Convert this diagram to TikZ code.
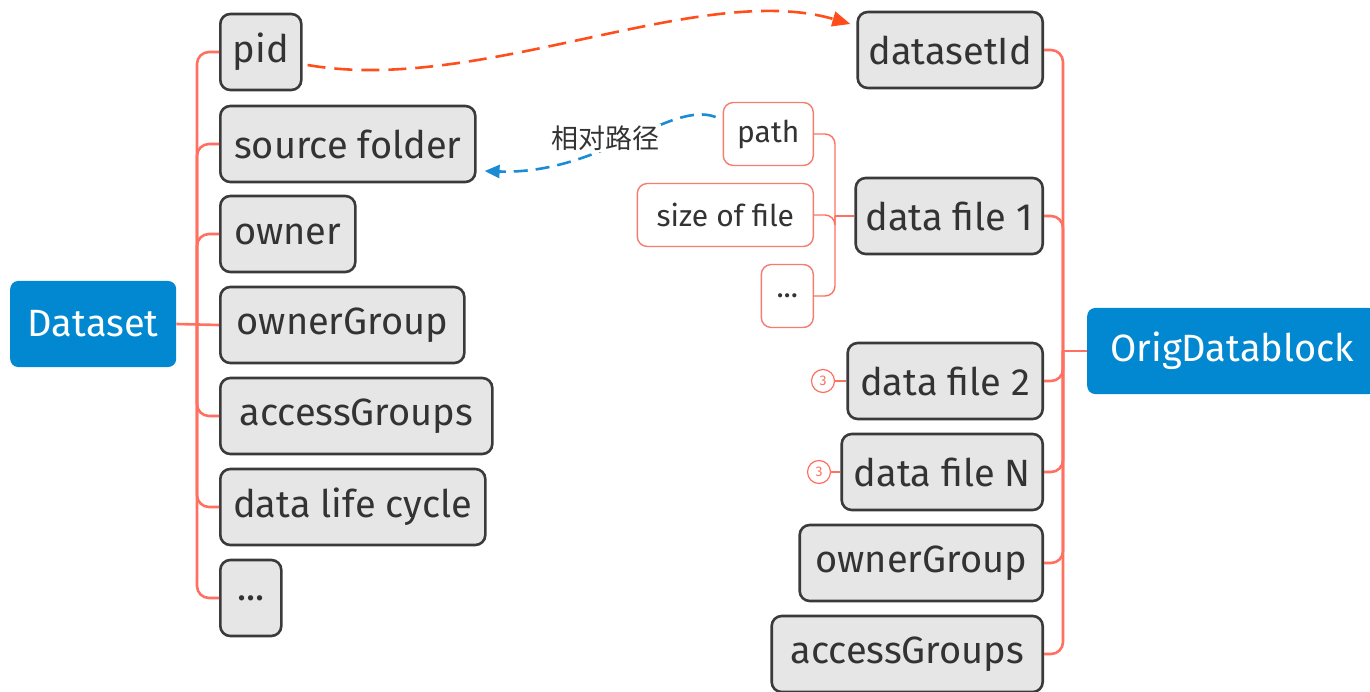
\documentclass[tikz,border=0pt]{standalone}
\usepackage{fontspec}
\setmainfont{Fira Sans}
\newfontfamily\cjk{Noto Sans CJK SC}
\usetikzlibrary{arrows.meta}
\definecolor{rootblue}{RGB}{2,136,209}
\definecolor{boxgray}{RGB}{230,230,230}
\definecolor{boxedge}{RGB}{58,58,58}
\definecolor{branchred}{RGB}{255,112,96}
\definecolor{pinkedge}{RGB}{245,125,112}
\definecolor{linkred}{RGB}{255,78,28}
\definecolor{linkblue}{RGB}{26,139,212}
\definecolor{txt}{RGB}{51,51,51}
\tikzset{
  rootbox/.style={rounded corners=8pt, fill=rootblue, draw=none, text=white,
    minimum height=86pt, inner sep=0pt, font=\fontsize{38}{40}\selectfont},
  attrbox/.style={rounded corners=10pt, fill=boxgray, draw=boxedge, line width=2.6pt,
    text=txt, minimum height=76pt, inner sep=0pt, font=\fontsize{38}{40}\selectfont},
  subbox/.style={rounded corners=10pt, fill=white, draw=pinkedge, line width=1.4pt,
    text=txt, minimum height=63pt, inner sep=0pt, font=\fontsize{30}{32}\selectfont},
  countmark/.style={circle, draw=branchred, line width=1.2pt, fill=white, text=branchred,
    minimum size=23pt, inner sep=0pt, font=\fontsize{14}{15}\selectfont},
  branch/.style={draw=branchred, line width=2.6pt},
  twig/.style={draw=branchred, line width=1.4pt},
  reflink/.style={draw=linkred, line width=2.6pt, dash pattern=on 18pt off 9pt,
    -{Triangle[length=18pt,width=15pt]}},
  rellink/.style={draw=linkblue, line width=2.6pt, dash pattern=on 14pt off 8pt,
    -{Triangle[length=15pt,width=13pt]}},
}
\begin{document}
\begin{tikzpicture}[x=1pt,y=-1pt]
\useasboundingbox (0,0) rectangle (1370,692);

% ---- Dataset side ----
\node[rootbox, minimum width=166pt, anchor=west] (dataset) at (10,324) {Dataset};
\node[attrbox, minimum width=81pt,  anchor=west] (pid)    at (219,52)  {pid};
\node[attrbox, minimum width=255pt, anchor=west] (src)    at (219,144) {source folder};
\node[attrbox, minimum width=135pt, anchor=west] (owner)  at (219,234) {owner};
\node[attrbox, minimum width=244pt, anchor=west] (dgroup) at (219,325) {ownerGroup};
\node[attrbox, minimum width=272pt, anchor=west] (dacc)   at (219,416) {accessGroups};
\node[attrbox, minimum width=265pt, anchor=west] (life)   at (219,507) {data life cycle};
\node[attrbox, minimum width=61pt,  anchor=west] (dmore)  at (219,598) {...};

\coordinate (lbus) at (197,324);
\draw[branch] (dataset.east) -- (dgroup.west);
\foreach \c in {pid,src,owner,dacc,life,dmore}
  \draw[branch, rounded corners=12pt] (lbus) |- (\c.west);

% ---- OrigDatablock side ----
\node[rootbox, minimum width=290pt, anchor=west] (orig) at (1087,351) {OrigDatablock};
\node[attrbox, minimum width=185pt, anchor=east] (dsid)   at (1044,50)  {datasetId};
\node[attrbox, minimum width=187pt, anchor=east] (file1)  at (1044,216) {data file 1};
\node[attrbox, minimum width=195pt, anchor=east] (file2)  at (1044,381) {data file 2};
\node[attrbox, minimum width=201pt, anchor=east] (fileN)  at (1044,472) {data file N};
\node[attrbox, minimum width=243pt, anchor=east] (ogroup) at (1044,563) {ownerGroup};
\node[attrbox, minimum width=271pt, anchor=east] (oacc)   at (1044,654) {accessGroups};

\coordinate (rbus) at (1063,351);
\draw[branch] (orig.west) -- (rbus);
\foreach \c in {dsid,file1,file2,fileN,ogroup,oacc}
  \draw[branch, rounded corners=12pt] (rbus) |- (\c.east);

% ---- data file 1 details ----
\node[subbox, minimum width=90pt,  anchor=east] (fpath) at (814,134) {path};
\node[subbox, minimum width=176pt, anchor=east] (fsize) at (814,215) {size of file};
\node[subbox, minimum width=52pt,  anchor=east] (fmore) at (814,296) {...};

\coordinate (fbus) at (835,216);
\draw[twig] (file1.west) -- (fbus);
\foreach \c in {fpath,fsize,fmore}
  \draw[twig, rounded corners=10pt] (fbus) |- (\c.east);

% ---- hidden-children counters ----
\node[countmark] (c2) at (823,381) {3};
\node[countmark] (cN) at (819,472) {3};
\draw[twig] (c2.east) -- (file2.west);
\draw[twig] (cN.east) -- (fileN.west);

% ---- relationship links ----
\draw[reflink] ([xshift=5pt,yshift=-13pt]pid.east)
  .. controls (480,95) and (700,-20) .. ([xshift=-6pt,yshift=26pt]dsid.west);

\draw[rellink] ([xshift=-7pt,yshift=17pt]fpath.west)
  .. controls (670,100) and (600,175) .. ([xshift=8pt,yshift=-27pt]src.east);
\node[fill=white, inner sep=2pt, text=txt, font=\cjk\fontsize{27}{29}\selectfont]
  (rel) at (605,138) {相对路径};
\end{tikzpicture}
\end{document}
